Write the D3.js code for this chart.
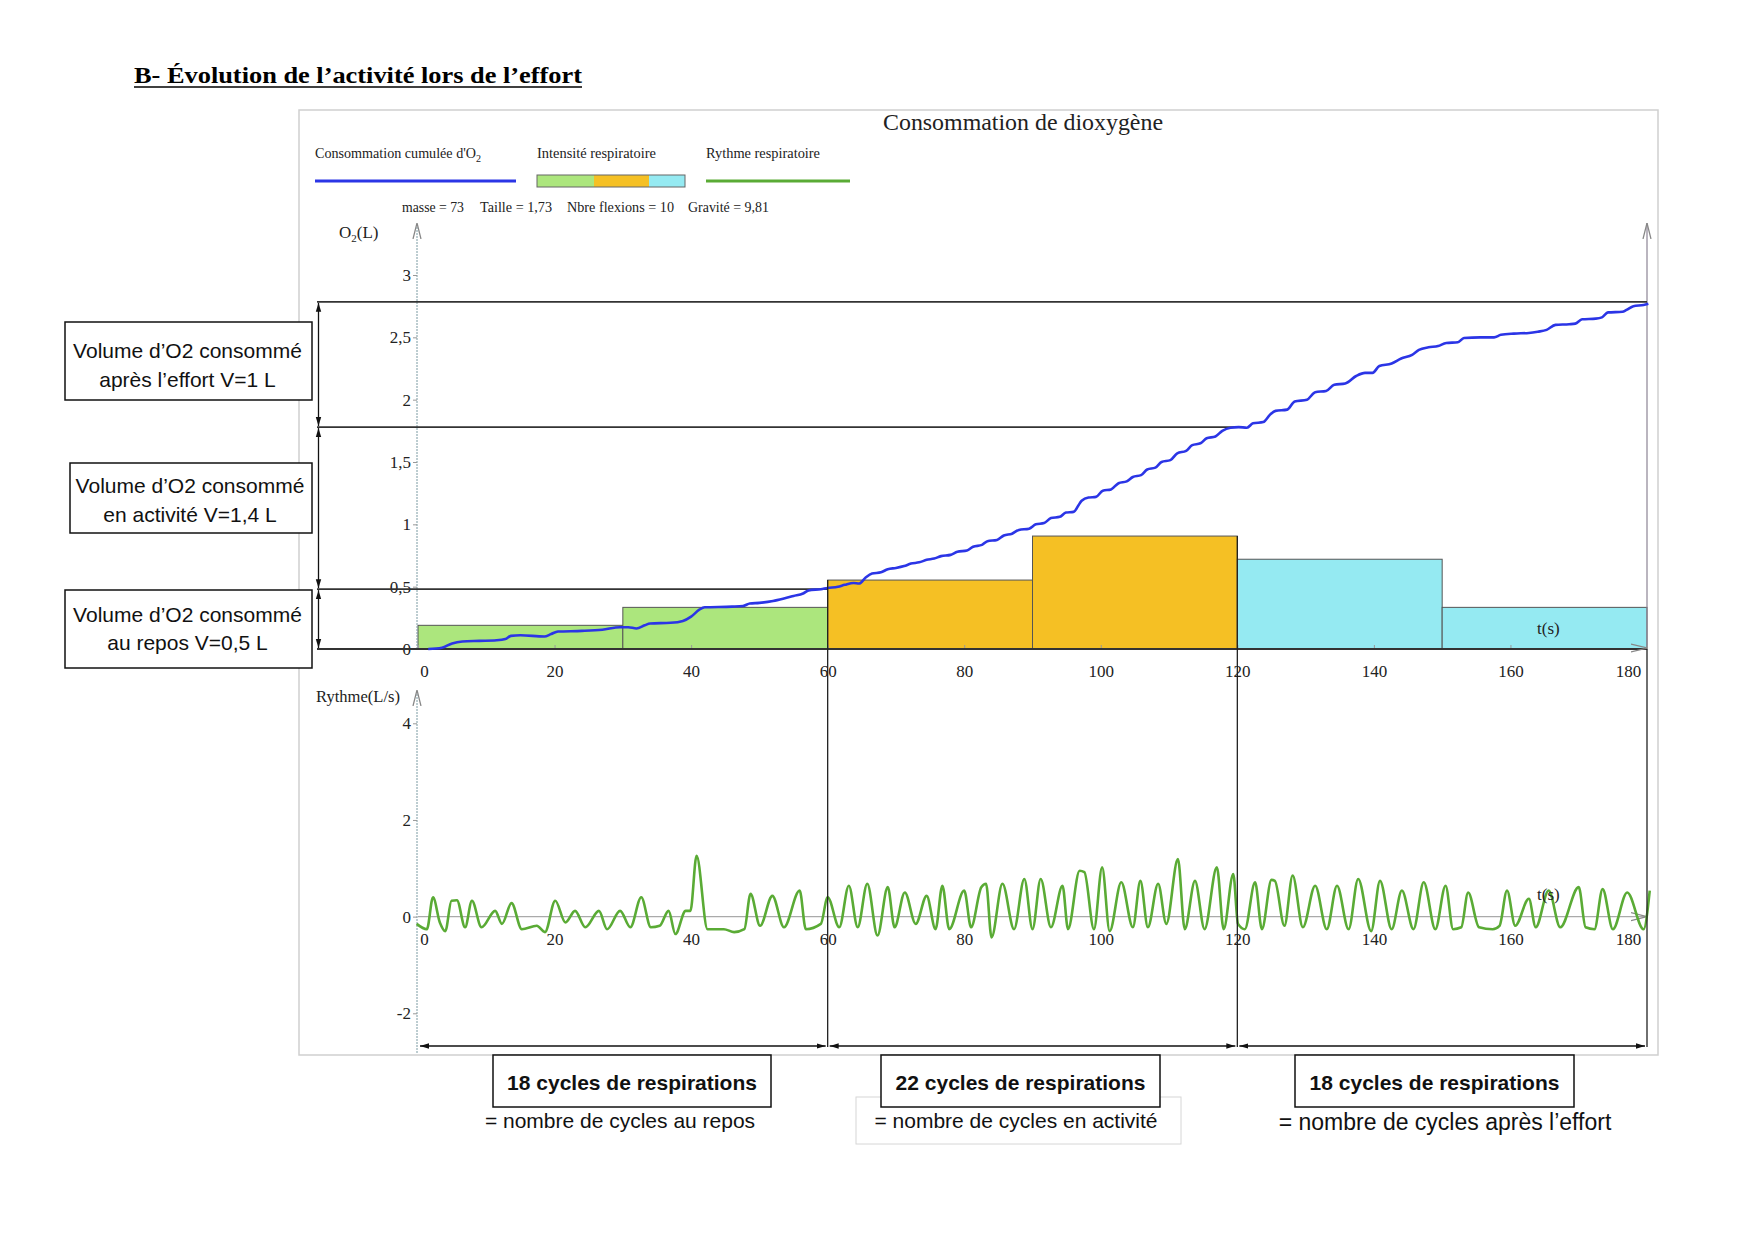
<!DOCTYPE html>
<html>
<head>
<meta charset="utf-8">
<script src="https://cdn.jsdelivr.net/npm/d3@7"></script>
<style>
  body { margin: 0; background: #fff; }
  svg { display: block; }
</style>
</head>
<body>
<div id="chart"></div>
<script>
// ---- data ----
const timeTicks = [0, 20, 40, 60, 80, 100, 120, 140, 160, 180];
const o2Ticks = [0, 0.5, 1, 1.5, 2, 2.5, 3];
const rythmeTicks = [-2, 0, 2, 4];

// intensité respiratoire, one bar every 30 s
const intensityStart = [0, 30, 60, 90, 120, 150];
const intensityValue = [0.19, 0.334, 0.553, 0.906, 0.72, 0.334];
const intensityPhase = ["repos", "repos", "activite", "activite", "apres", "apres"];

// phases
const phaseStart = [0, 60, 120];
const phaseEnd = [60, 120, 180];
const volumeLevel = [0.48, 1.78, 2.785];
const cycleCount = [18, 22, 18];
const cycleNote = ["= nombre de cycles au repos", "= nombre de cycles en activité", "= nombre de cycles après l’effort"];
const volumeText = [
  ["Volume d’O2 consommé", "au repos V=0,5 L"],
  ["Volume d’O2 consommé", "en activité V=1,4 L"],
  ["Volume d’O2 consommé", "après l’effort V=1 L"]
];
const parametres = ["masse = 73", "Taille = 1,73", "Nbre flexions = 10", "Gravité = 9,81"];

// consommation cumulée d'O2 [t (s), V (L)]
const o2Cumul = [
  [1.5, 0], [3.5, 0.01], [5.0, 0.045], [6.5, 0.06], [9.0, 0.065], [11.5, 0.07], [12.8, 0.08], [13.6, 0.105],
  [15.0, 0.11], [18.5, 0.10], [19.5, 0.12], [20.5, 0.14], [24.0, 0.145], [27.0, 0.155], [29.6, 0.175],
  [30.8, 0.175], [32.0, 0.165], [33.2, 0.19], [34.0, 0.205], [37.0, 0.21], [38.8, 0.225], [40.0, 0.26],
  [41.2, 0.315], [42.0, 0.335], [46.0, 0.34], [47.6, 0.345], [48.6, 0.365], [50.0, 0.37], [52.0, 0.385],
  [53.6, 0.405], [55.0, 0.425], [56.4, 0.445], [57.2, 0.47], [59.0, 0.48], [60.0, 0.49],
  [61.5, 0.50], [62.5, 0.515], [63.8, 0.53], [64.6, 0.525], [65.6, 0.575], [66.5, 0.605], [67.8, 0.615],
  [68.8, 0.64], [70.0, 0.65], [71.2, 0.665], [72.2, 0.685], [73.4, 0.695], [74.5, 0.715], [75.6, 0.725],
  [76.6, 0.745], [78.0, 0.755], [79.0, 0.78], [80.4, 0.79], [81.3, 0.82], [82.6, 0.835], [83.4, 0.865],
  [84.8, 0.875], [85.8, 0.91], [87.0, 0.925], [88.0, 0.955], [89.5, 0.965], [90.5, 1.0], [91.7, 1.01],
  [92.7, 1.05], [94.0, 1.06], [94.9, 1.095], [96.0, 1.10], [97.2, 1.19], [98.2, 1.215], [99.3, 1.22],
  [100.3, 1.27], [101.5, 1.28], [102.6, 1.33], [103.8, 1.345], [104.7, 1.38], [105.9, 1.395], [106.8, 1.44],
  [108.0, 1.455], [108.9, 1.50], [110.2, 1.515], [111.2, 1.57], [112.5, 1.59], [113.4, 1.635], [114.6, 1.65],
  [115.5, 1.69], [116.8, 1.705], [117.8, 1.75], [119.0, 1.775], [120.2, 1.78], [121.4, 1.775], [122.3, 1.81],
  [123.8, 1.82], [124.8, 1.88], [125.6, 1.91], [127.3, 1.92], [128.4, 1.985], [130.2, 2.0], [131.4, 2.06],
  [133.0, 2.07], [134.2, 2.12], [135.8, 2.13], [137.4, 2.19], [138.7, 2.215], [139.8, 2.215], [140.8, 2.27],
  [142.6, 2.29], [144.0, 2.33], [145.6, 2.36], [146.6, 2.40], [148.0, 2.42], [149.4, 2.43], [150.6, 2.455],
  [152.3, 2.46], [153.2, 2.495], [155.6, 2.50], [157.6, 2.50], [158.6, 2.52], [160.5, 2.53], [162.7, 2.535],
  [164.0, 2.545], [165.3, 2.56], [166.6, 2.60], [168.6, 2.605], [169.5, 2.61], [170.5, 2.645], [172.5, 2.65],
  [173.4, 2.66], [174.3, 2.70], [176.4, 2.705], [177.0, 2.72], [178.0, 2.75], [179.5, 2.76], [180.2, 2.77]
];

// rythme respiratoire [t (s), débit (L/s)]
const rythme = [
  [-0.2, -0.15], [1.3, -0.26], [2.2, 0.40], [3.2, -0.12], [4.0, -0.30], [4.9, 0.33], [5.7, 0.34], [6.9, -0.22],
  [7.9, 0.33], [9.3, -0.22], [11.3, 0.12], [12.3, -0.15], [13.7, 0.28], [15.2, -0.26], [17.4, -0.19],
  [18.6, -0.32], [20.1, 0.33], [21.6, -0.12], [23.0, 0.12], [24.5, -0.22], [26.5, 0.12], [27.7, -0.26],
  [29.6, 0.12], [31.1, -0.22], [32.7, 0.40], [34.1, -0.22], [35.4, -0.19], [36.7, 0.12], [37.7, -0.36],
  [39.2, 0.12], [39.9, 0.12], [40.8, 1.26], [42.4, -0.26], [44.8, -0.26], [46.3, -0.32], [47.8, -0.26],
  [48.7, 0.47], [50.1, -0.19], [51.9, 0.43], [53.6, -0.22], [55.9, 0.54], [56.8, -0.26], [59.0, -0.15],
  [60.0, 0.40], [61.7, -0.22], [63.1, 0.64], [64.4, -0.22], [65.8, 0.68], [67.3, -0.39], [68.8, 0.61],
  [69.8, -0.22], [71.3, 0.50], [72.9, -0.15], [74.5, 0.43], [75.8, -0.26], [76.8, 0.64], [77.8, -0.26],
  [80.0, 0.54], [81.0, -0.22], [82.5, 0.61], [83.2, 0.68], [84.0, -0.43], [85.6, 0.68], [87.3, -0.26],
  [88.8, 0.78], [90.0, -0.26], [91.2, 0.78], [92.7, -0.22], [94.4, 0.64], [95.2, -0.26], [96.9, 0.95],
  [97.6, 0.92], [99.0, -0.26], [100.2, 1.02], [101.3, -0.30], [103.0, 0.71], [104.7, -0.22], [105.8, 0.74],
  [106.9, -0.22], [108.4, 0.68], [109.6, -0.15], [111.3, 1.19], [112.3, -0.26], [113.8, 0.74], [115.2, -0.26],
  [117.0, 1.02], [118.0, -0.26], [119.4, 0.88], [120.1, -0.15], [121.1, -0.26], [122.6, 0.71], [123.6, -0.26],
  [125.0, 0.76], [125.5, 0.74], [126.9, -0.19], [128.1, 0.85], [129.6, -0.22], [131.4, 0.64], [133.1, -0.26],
  [134.6, 0.64], [136.3, -0.26], [137.7, 0.78], [139.6, -0.30], [140.9, 0.74], [142.6, -0.26], [144.1, 0.54],
  [145.8, -0.26], [147.3, 0.71], [149.0, -0.26], [150.5, 0.64], [151.6, -0.26], [152.8, -0.22], [153.8, 0.50],
  [155.4, -0.22], [157.4, -0.26], [158.4, -0.19], [159.5, 0.54], [160.7, -0.19], [162.7, 0.37], [163.7, -0.22],
  [165.6, 0.54], [167.3, -0.22], [170.0, 0.61], [171.0, -0.22], [172.3, -0.26], [173.5, 0.57], [175.0, -0.26],
  [177.1, 0.50], [179.5, -0.26], [180.4, 0.54]
];

// ---- drawing ----
const W = 1754, H = 1240;
const phaseColor = { repos: "#ace67d", activite: "#f5c024", apres: "#95eaf2" };
const serif = "'Liberation Serif', 'Times New Roman', serif";
const sans = "'Liberation Sans', Arial, sans-serif";
const comma = d => String(d).replace(".", ",");

const svg = d3.select("#chart").append("svg")
    .attr("width", W)
    .attr("height", H);

const defs = svg.append("defs");
defs.append("marker")
    .attr("id", "tri")
    .attr("viewBox", "0 0 10 10")
    .attr("refX", 10).attr("refY", 5)
    .attr("markerWidth", 9).attr("markerHeight", 9)
    .attr("markerUnits", "userSpaceOnUse")
    .attr("orient", "auto-start-reverse")
    .append("path")
    .attr("d", "M0,2L10,5L0,8Z")
    .attr("fill", "#111");
defs.append("marker")
    .attr("id", "open")
    .attr("viewBox", "0 0 10 10")
    .attr("refX", 10).attr("refY", 5)
    .attr("markerWidth", 16).attr("markerHeight", 16)
    .attr("markerUnits", "userSpaceOnUse")
    .attr("orient", "auto")
    .append("path")
    .attr("d", "M0,2.5L10,5L0,7.5")
    .attr("fill", "none")
    .attr("stroke", "#888")
    .attr("stroke-width", 0.8);

// scales
const x = d3.scaleLinear().domain([0, 180]).range([418, 1647]);
const yO2 = d3.scaleLinear().domain([0, 3]).range([649, 275]);
const yR = d3.scaleLinear().domain([-2, 4]).range([1013.3, 723.3]);

// page heading
svg.append("text")
    .attr("x", 134).attr("y", 83)
    .attr("font-family", serif)
    .attr("font-weight", "bold")
    .attr("font-size", 24)
    .attr("textLength", 448)
    .attr("lengthAdjust", "spacingAndGlyphs")
    .text("B- Évolution de l’activité lors de l’effort");
svg.append("line")
    .attr("x1", 134).attr("x2", 582)
    .attr("y1", 87).attr("y2", 87)
    .attr("stroke", "#000").attr("stroke-width", 1.5);

// chart frame
svg.append("rect")
    .attr("x", 299).attr("y", 110)
    .attr("width", 1359).attr("height", 945)
    .attr("fill", "#fff")
    .attr("stroke", "#cfcfcf")
    .attr("stroke-width", 1.5);

svg.append("text")
    .attr("x", 883).attr("y", 130)
    .attr("font-family", serif)
    .attr("font-size", 24)
    .attr("textLength", 280)
    .attr("lengthAdjust", "spacingAndGlyphs")
    .attr("fill", "#222")
    .text("Consommation de dioxygène");

// legend
const legend = svg.append("g").attr("font-family", serif).attr("font-size", 14).attr("fill", "#222");
const lg1 = legend.append("text").attr("x", 315).attr("y", 158)
    .attr("textLength", 166).attr("lengthAdjust", "spacingAndGlyphs");
lg1.append("tspan").text("Consommation cumulée d'O");
lg1.append("tspan").attr("font-size", 10).attr("dy", 4).text("2");
legend.append("line").attr("x1", 315).attr("x2", 516).attr("y1", 181).attr("y2", 181)
    .attr("stroke", "#2b35e6").attr("stroke-width", 3);

legend.append("text").attr("x", 537).attr("y", 158)
    .attr("textLength", 119).attr("lengthAdjust", "spacingAndGlyphs")
    .text("Intensité respiratoire");
const legendPhases = ["repos", "activite", "apres"];
const segX = [537, 594, 649];
const segW = [57, 55, 36];
legend.selectAll("rect.seg")
    .data(legendPhases)
    .join("rect")
    .attr("class", "seg")
    .attr("x", (d, i) => segX[i])
    .attr("y", 175)
    .attr("width", (d, i) => segW[i])
    .attr("height", 12)
    .attr("fill", d => phaseColor[d]);
legend.append("rect").attr("x", 537).attr("y", 175).attr("width", 148).attr("height", 12)
    .attr("fill", "none").attr("stroke", "#666").attr("stroke-width", 1);

legend.append("text").attr("x", 706).attr("y", 158)
    .attr("textLength", 114).attr("lengthAdjust", "spacingAndGlyphs")
    .text("Rythme respiratoire");
legend.append("line").attr("x1", 706).attr("x2", 850).attr("y1", 181).attr("y2", 181)
    .attr("stroke", "#5aab35").attr("stroke-width", 3);

// parameters line
const paramX = [402, 480, 567, 688];
const paramW = [62, 72, 107, 81];
svg.append("g").selectAll("text")
    .data(parametres)
    .join("text")
    .attr("x", (d, i) => paramX[i])
    .attr("y", 212)
    .attr("textLength", (d, i) => paramW[i])
    .attr("lengthAdjust", "spacingAndGlyphs")
    .attr("font-family", serif)
    .attr("font-size", 15)
    .attr("fill", "#222")
    .text(d => d);

// axis titles
const o2Title = svg.append("text").attr("x", 339).attr("y", 238)
    .attr("font-family", serif).attr("font-size", 17).attr("fill", "#222");
o2Title.append("tspan").text("O");
o2Title.append("tspan").attr("font-size", 11).attr("dy", 4).text("2");
o2Title.append("tspan").attr("dy", -4).text("(L)");

svg.append("text").attr("x", 316).attr("y", 702)
    .attr("font-family", serif).attr("font-size", 17).attr("fill", "#222")
    .attr("textLength", 84).attr("lengthAdjust", "spacingAndGlyphs")
    .text("Rythme(L/s)");

// intensity bars
svg.append("g").selectAll("rect")
    .data(intensityValue)
    .join("rect")
    .attr("x", (d, i) => x(intensityStart[i]))
    .attr("y", d => yO2(d))
    .attr("width", (d, i) => x(intensityStart[i] + 30) - x(intensityStart[i]))
    .attr("height", d => yO2(0) - yO2(d))
    .attr("fill", (d, i) => phaseColor[intensityPhase[i]])
    .attr("stroke", "#555")
    .attr("stroke-width", 1);

// vertical axes (thin dotted, open arrow heads)
svg.append("line")
    .attr("x1", x(0) - 1).attr("x2", x(0) - 1)
    .attr("y1", yO2(0)).attr("y2", 223)
    .attr("stroke", "#7b9aa2").attr("stroke-width", 1).attr("stroke-dasharray", "2,1")
    .attr("marker-end", "url(#open)");
svg.append("line")
    .attr("x1", x(0) - 1).attr("x2", x(0) - 1)
    .attr("y1", 1053).attr("y2", 690)
    .attr("stroke", "#7b9aa2").attr("stroke-width", 1).attr("stroke-dasharray", "2,1")
    .attr("marker-end", "url(#open)");
svg.append("line")
    .attr("x1", x(180)).attr("x2", x(180))
    .attr("y1", yO2(0)).attr("y2", 223)
    .attr("stroke", "#8c8494").attr("stroke-width", 1.2)
    .attr("marker-end", "url(#open)");

// axes
const axisO2 = svg.append("g")
    .attr("transform", `translate(${x(0) - 1},0)`)
    .call(d3.axisLeft(yO2).tickValues(o2Ticks).tickFormat(comma).tickSize(4).tickPadding(2));
const axisR = svg.append("g")
    .attr("transform", `translate(${x(0) - 1},0)`)
    .call(d3.axisLeft(yR).tickValues(rythmeTicks).tickFormat(d => d).tickSize(4).tickPadding(2));
const axisT1 = svg.append("g")
    .attr("transform", `translate(0,${yO2(0)})`)
    .call(d3.axisBottom(x).tickValues(timeTicks).tickSize(-4).tickPadding(16));
const axisT2 = svg.append("g")
    .attr("transform", `translate(0,${yR(0)})`)
    .call(d3.axisBottom(x).tickValues(timeTicks).tickSize(0).tickPadding(16));

[axisO2, axisR, axisT1, axisT2].forEach(a => {
  a.select(".domain").remove();
  a.selectAll(".tick line").attr("stroke", "#999");
  a.selectAll("text").attr("font-family", serif).attr("font-size", 17).attr("fill", "#222");
});
// first and last time labels sit inside the axis ends
[axisT1, axisT2].forEach(a => {
  a.selectAll(".tick text").filter(d => d === 0).attr("dx", 6);
  a.selectAll(".tick text").filter(d => d === 180).attr("dx", -19);
});

// zero line of the rhythm panel
svg.append("line")
    .attr("x1", x(0)).attr("x2", x(180))
    .attr("y1", yR(0)).attr("y2", yR(0))
    .attr("stroke", "#aaa").attr("stroke-width", 1.2)
    .attr("marker-end", "url(#open)");

// time axis of the O2 panel, with the bracket line at 0
svg.append("line")
    .attr("x1", 317).attr("x2", x(180))
    .attr("y1", yO2(0)).attr("y2", yO2(0))
    .attr("stroke", "#333").attr("stroke-width", 1.8);
svg.append("line")
    .attr("x1", x(177)).attr("x2", x(180))
    .attr("y1", yO2(0) - 1).attr("y2", yO2(0) - 1)
    .attr("stroke", "none")
    .attr("marker-end", "url(#open)");

// volume levels reached at the end of each phase
svg.append("g").selectAll("line")
    .data(volumeLevel)
    .join("line")
    .attr("x1", 317)
    .attr("x2", (d, i) => x(phaseEnd[i]))
    .attr("y1", d => yO2(d))
    .attr("y2", d => yO2(d))
    .attr("stroke", "#333")
    .attr("stroke-width", 1.8);

const levelsFrom0 = [0, ...volumeLevel];
svg.append("g").selectAll("line")
    .data(volumeLevel)
    .join("line")
    .attr("x1", 318.5).attr("x2", 318.5)
    .attr("y1", (d, i) => yO2(levelsFrom0[i]) - 1)
    .attr("y2", d => yO2(d) + 1)
    .attr("stroke", "#111")
    .attr("stroke-width", 1.3)
    .attr("marker-start", "url(#tri)")
    .attr("marker-end", "url(#tri)");

// cumulative O2 curve
svg.append("path")
    .datum(o2Cumul)
    .attr("fill", "none")
    .attr("stroke", "#2b35e6")
    .attr("stroke-width", 2.6)
    .attr("stroke-linejoin", "round")
    .attr("d", d3.line().x(d => x(d[0])).y(d => yO2(d[1])).curve(d3.curveMonotoneX));

// respiratory rhythm
svg.append("path")
    .datum(rythme)
    .attr("fill", "none")
    .attr("stroke", "#5aab35")
    .attr("stroke-width", 2.6)
    .attr("stroke-linejoin", "round")
    .attr("d", d3.line().x(d => x(d[0])).y(d => yR(d[1])).curve(d3.curveMonotoneX));

// t(s) labels
svg.append("text").attr("x", 1537).attr("y", 634)
    .attr("font-family", serif).attr("font-size", 17).attr("fill", "#222").text("t(s)");
svg.append("text").attr("x", 1537).attr("y", 900)
    .attr("font-family", serif).attr("font-size", 17).attr("fill", "#222").text("t(s)");

// phase separators, from the tallest bar touching them down to the cycle arrows
const arrowY = 1046;
const barTopAt = t => {
  const i = intensityStart.indexOf(t);
  return i < 0 ? 0 : intensityValue[i];
};
svg.append("g").selectAll("line")
    .data(phaseEnd)
    .join("line")
    .attr("x1", d => x(d)).attr("x2", d => x(d))
    .attr("y1", d => yO2(Math.max(barTopAt(d), barTopAt(d - 30) * (d < 180 ? 1 : 0))))
    .attr("y2", arrowY + 1)
    .attr("stroke", "#222")
    .attr("stroke-width", 1.3);

svg.append("g").selectAll("line")
    .data(phaseStart)
    .join("line")
    .attr("x1", d => x(d) + 2)
    .attr("x2", (d, i) => x(phaseEnd[i]) - 2)
    .attr("y1", arrowY).attr("y2", arrowY)
    .attr("stroke", "#111")
    .attr("stroke-width", 1.5)
    .attr("marker-start", "url(#tri)")
    .attr("marker-end", "url(#tri)");

// left annotation boxes
const volBox = [
  { x: 65, y: 590, w: 247, h: 78, b: [622, 650] },
  { x: 70, y: 463, w: 242, h: 70, b: [493, 522] },
  { x: 65, y: 322, w: 247, h: 78, b: [358, 387] }
];
const vb = svg.append("g").selectAll("g")
    .data(volumeText)
    .join("g");
vb.append("rect")
    .attr("x", (d, i) => volBox[i].x).attr("y", (d, i) => volBox[i].y)
    .attr("width", (d, i) => volBox[i].w).attr("height", (d, i) => volBox[i].h)
    .attr("fill", "#fff").attr("stroke", "#111").attr("stroke-width", 1.5);
vb.each(function (d, i) {
  d3.select(this).selectAll("text")
    .data(d)
    .join("text")
    .attr("x", volBox[i].x + volBox[i].w / 2 - 1)
    .attr("y", (t, j) => volBox[i].b[j])
    .attr("text-anchor", "middle")
    .attr("font-family", sans)
    .attr("font-size", 21)
    .attr("fill", "#111")
    .text(t => t);
});

// cycle boxes
const cycleBox = [
  { x: 493, w: 278, nx: 620, fs: 21 },
  { x: 881, w: 279, nx: 1016, fs: 21 },
  { x: 1295, w: 279, nx: 1445, fs: 23 }
];
svg.append("rect")
    .attr("x", 856).attr("y", 1097).attr("width", 325).attr("height", 47)
    .attr("fill", "#fff").attr("stroke", "#d6d6d6").attr("stroke-width", 1);
const cb = svg.append("g").selectAll("g")
    .data(cycleCount)
    .join("g");
cb.append("rect")
    .attr("x", (d, i) => cycleBox[i].x).attr("y", 1055)
    .attr("width", (d, i) => cycleBox[i].w).attr("height", 52)
    .attr("fill", "#fff").attr("stroke", "#111").attr("stroke-width", 1.5);
cb.append("text")
    .attr("x", (d, i) => cycleBox[i].x + cycleBox[i].w / 2)
    .attr("y", 1090)
    .attr("text-anchor", "middle")
    .attr("font-family", sans)
    .attr("font-weight", "bold")
    .attr("font-size", 21)
    .attr("fill", "#111")
    .text(d => `${d} cycles de respirations`);
cb.append("text")
    .attr("x", (d, i) => cycleBox[i].nx)
    .attr("y", (d, i) => i === 2 ? 1130 : 1128)
    .attr("text-anchor", "middle")
    .attr("font-family", sans)
    .attr("font-size", (d, i) => cycleBox[i].fs)
    .attr("fill", "#111")
    .text((d, i) => cycleNote[i]);
</script>
</body>
</html>
